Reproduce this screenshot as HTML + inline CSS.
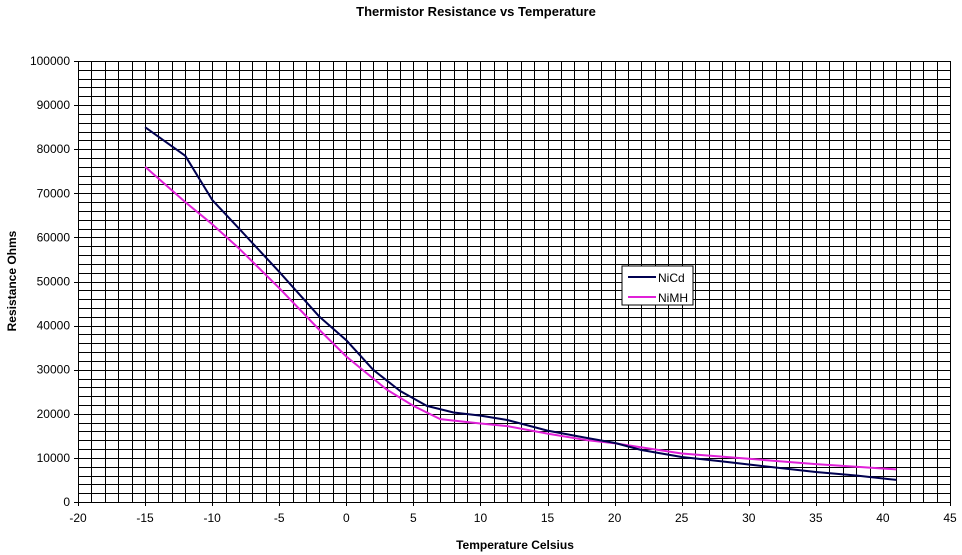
<!DOCTYPE html>
<html><head><meta charset="utf-8">
<style>
html,body{margin:0;padding:0;background:#fff;}
svg{display:block;font-family:"Liberation Sans",Arial,sans-serif;}
</style></head>
<body>
<svg id="chart" width="962" height="555" viewBox="0 0 962 555">
<text x="476" y="16" text-anchor="middle" font-size="13" font-weight="bold">Thermistor Resistance vs Temperature</text>
<text x="515" y="549" text-anchor="middle" font-size="12" font-weight="bold">Temperature Celsius</text>
<text transform="translate(16,281) rotate(-90)" text-anchor="middle" font-size="12" font-weight="bold">Resistance Ohms</text>
<g id="grid"></g>
<g id="ticks"></g>
<g id="series"></g>
<g>
<rect x="622" y="266" width="71" height="39" fill="#fff" stroke="#000" stroke-width="1"/>
<line x1="628" y1="277" x2="656" y2="277" stroke="#000050" stroke-width="2"/>
<text x="658" y="282" font-size="12">NiCd</text>
<line x1="628" y1="297" x2="656" y2="297" stroke="#e020d8" stroke-width="2"/>
<text x="658" y="302" font-size="12">NiMH</text>
</g>
</svg>
<script>
const xTicks = [-20,-15,-10,-5,0,5,10,15,20,25,30,35,40,45];
const yTicks = [0,10000,20000,30000,40000,50000,60000,70000,80000,90000,100000];
const nicdTemps = [-15,-12,-10,-8,-5,-2,0,2,4,5,6,8,10,12,15,18,20,22,25,28,30,35,38,41];
const nicdOhms = [85000,78500,68500,62000,52200,42000,36700,30000,25200,23500,21800,20300,19600,18600,16200,14500,13400,11800,10200,9200,8500,6800,6000,5000];
const nimhTemps = [-15,-12,-10,-8,-5,-2,0,3,5,7,10,12,15,18,20,25,30,35,38,41];
const nimhOhms = [76000,68000,63000,57500,48500,39000,33000,25500,21800,18800,17800,17200,15500,14000,13300,11000,9800,8600,8000,7400];

const X0=78,X1=950,Y0=502,Y1=61;
const xs=v=>X0+(v+20)/65*(X1-X0);
const ys=v=>Y0-v/100000*(Y0-Y1);
const NS="http://www.w3.org/2000/svg";
const grid=document.getElementById('grid'),ticks=document.getElementById('ticks'),series=document.getElementById('series');
function mk(tag,attrs,parent){const e=document.createElementNS(NS,tag);for(const k in attrs)e.setAttribute(k,attrs[k]);parent.appendChild(e);return e;}
for(let t=-20;t<=45;t++){
  const x=Math.round(xs(t))+0.5;
  const l=mk('line',{x1:x,y1:Y1,x2:x,y2:Y0+(t%5===0?4:0),stroke:'#000','stroke-width':1},grid);
  
  
}
for(let v=0;v<=100000;v+=2000){
  const y=Math.round(ys(v))+0.5;
  const l=mk('line',{x1:X0-(v%10000===0?4:0),y1:y,x2:X1,y2:y,stroke:'#000','stroke-width':1},grid);
  
  
}
xTicks.forEach(t=>{
  const e=mk('text',{x:xs(t),y:Y0+20,'text-anchor':'middle','font-size':12},ticks);
  e.textContent=t;
  
  
});
yTicks.forEach(v=>{
  const e=mk('text',{x:X0-8,y:ys(v)+4,'text-anchor':'end','font-size':12},ticks);
  e.textContent=v;
  
  
});
function drawLine(tx,vy,color,name){
  const pts=tx.map((t,i)=>xs(t).toFixed(1)+','+ys(vy[i]).toFixed(1)).join(' ');
  const p=mk('polyline',{points:pts,fill:'none',stroke:color,'stroke-width':2,'stroke-linejoin':'round'},series);
  
  
}
drawLine(nimhTemps,nimhOhms,'#e020d8','nimh-line');
drawLine(nicdTemps,nicdOhms,'#000050','nicd-line');
</script>
</body></html>
